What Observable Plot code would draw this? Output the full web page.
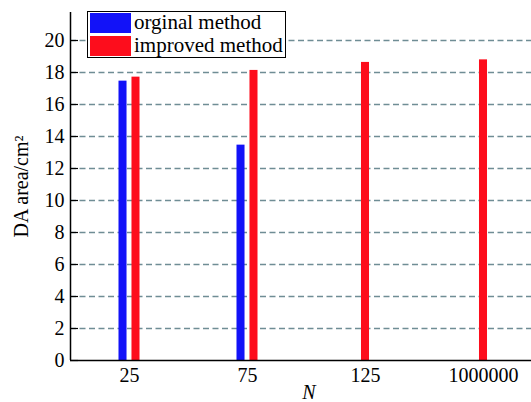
<!DOCTYPE html>
<html><head><meta charset="utf-8">
<script src="https://cdn.jsdelivr.net/npm/d3@7"></script>
<script src="https://cdn.jsdelivr.net/npm/@observablehq/plot@0.6"></script>
<style>
html,body{margin:0;padding:0;background:#fff;overflow:hidden;}
#wrap{position:relative;width:531px;height:402px;overflow:hidden;}
#wrap svg{position:absolute;left:0;top:0;font-family:"Liberation Serif","Times New Roman",serif !important;}
#wrap svg text{font-family:"Liberation Serif","Times New Roman",serif !important;}
.legend{position:absolute;left:87px;top:11px;width:197px;height:45px;border:1px solid #000;background:#fff;font-family:"Liberation Serif","Times New Roman",serif;font-size:21px;color:#000;}
.legend .row{position:absolute;left:0;height:20px;}
.legend .sw{position:absolute;left:2px;top:0;width:41px;height:20px;}
.legend .lab{position:absolute;left:46px;top:-3px;white-space:nowrap;line-height:24px;}
</style>
</head><body>
<div id="wrap"></div>
<script>
const categories = ["25", "75", "125", "1000000"];
const seriesNames = ["orginal method", "improved method"];
const original = [17.46, 13.46, null, null];
const improved = [17.71, 18.13, 18.63, 18.79];
const yTicks = [0, 2, 4, 6, 8, 10, 12, 14, 16, 18, 20];
const colors = ["#1212f8", "#fd0d1c"];

const halfW = 0.034, off = 0.055;
const bars = [];
categories.forEach((c, i) => {
  const vals = [original[i], improved[i]];
  const both = vals[0] != null && vals[1] != null;
  vals.forEach((v, s) => {
    if (v == null) return;
    const center = i + 1 + (both ? (s === 0 ? -off : off) : 0);
    bars.push({cat: c, series: seriesNames[s], value: v, x1: center - halfW, x2: center + halfW, color: colors[s]});
  });
});

const chart = Plot.plot({
  width: 531, height: 402,
  marginLeft: 70, marginRight: 0, marginTop: 12, marginBottom: 42,
  x: {type: "linear", domain: [0.5, 4.5], range: [70, 542], axis: null},
  y: {domain: [0, 21.75], axis: null},
  style: {fontFamily: "'Liberation Serif', 'Times New Roman', serif", fontSize: "20px", color: "#000", background: "#fff", overflow: "hidden"},
  marks: [
    Plot.ruleY(yTicks.filter(t => t > 0), {stroke: "#6f8d95", strokeDasharray: "6,3.5", strokeWidth: 1.4}),
    Plot.rectY(bars, {x1: "x1", x2: "x2", y1: 0, y2: "value", fill: "color"}),
    Plot.ruleY(yTicks, {insetRight: 531 - 70 - 8, stroke: "#000", strokeWidth: 1.2}),
    Plot.ruleX([0.5], {y1: 0, y2: 21.75, stroke: "#000", strokeWidth: 1.5}),
    Plot.ruleY([0], {stroke: "#000", strokeWidth: 1.5}),
    Plot.axisY(yTicks, {tickSize: 0, tickPadding: 6, fontSize: 20, label: "DA area/cm²", labelAnchor: "center", labelOffset: 57, labelArrow: false}),
    Plot.axisX([1, 2, 3, 4], {tickSize: 0, tickPadding: 7, fontSize: 20, tickFormat: i => categories[i - 1], label: null}),
    Plot.text(["N"], {frameAnchor: "bottom", dx: 8, dy: 24, lineAnchor: "top", fontStyle: "italic", fontSize: 20})
  ]
});
const wrap = document.getElementById("wrap");
wrap.appendChild(chart);

const leg = document.createElement("div");
leg.className = "legend";
seriesNames.forEach((name, s) => {
  const row = document.createElement("div");
  row.className = "row";
  row.style.top = (s === 0 ? 1 : 24) + "px";
  row.style.width = "100%";
  const sw = document.createElement("div");
  sw.className = "sw";
  sw.style.background = colors[s];
  const lab = document.createElement("div");
  lab.className = "lab";
  lab.textContent = name;
  row.appendChild(sw); row.appendChild(lab);
  leg.appendChild(row);
});
wrap.appendChild(leg);
</script>
</body></html>
